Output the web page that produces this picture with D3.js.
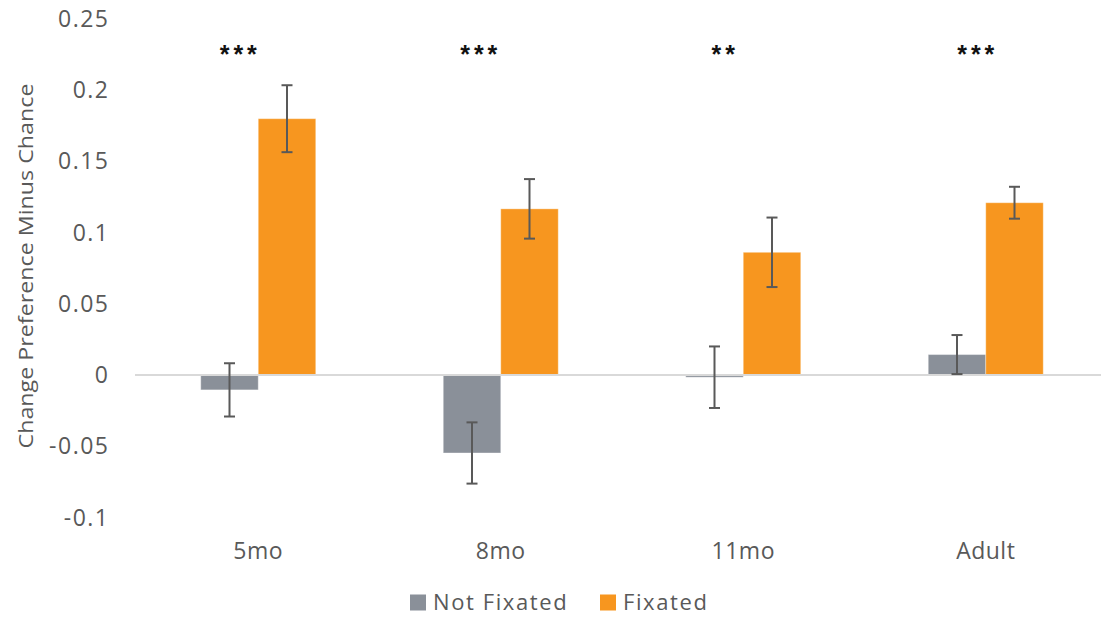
<!DOCTYPE html>
<html><head><meta charset="utf-8">
<script src="https://cdn.jsdelivr.net/npm/d3@7"></script>
<style>body{margin:0;background:#fff;} svg{display:block;}</style>
</head><body>
<svg id="chart" width="1101" height="619"></svg>
<script>
const categories = ["5mo", "8mo", "11mo", "Adult"];
const seriesNames = ["Not Fixated", "Fixated"];
const notFixated = [-0.0104, -0.0547, -0.0015, 0.0144];
const fixated = [0.180, 0.1167, 0.0862, 0.121];
const notFixatedErr = [0.0187, 0.0215, 0.0216, 0.0137];
const fixatedErr = [0.0235, 0.0209, 0.0244, 0.0112];
const significance = ["***", "***", "**", "***"];
const yTicks = [-0.1, -0.05, 0, 0.05, 0.1, 0.15, 0.2, 0.25];
const yTickLabels = ["-0.1", "-0.05", "0", "0.05", "0.1", "0.15", "0.2", "0.25"];
const yTitle = "Change Preference Minus Chance";
const colors = ["#8A9099", "#F7961F"];

const svg = d3.select("#chart");
const font = "'Open Sans', sans-serif";
const x = d3.scaleBand().domain(categories).range([137, 1107]).padding(0);
const groupW = 115;
const xs = d3.scaleBand().domain(seriesNames).range([0, groupW]).padding(0);
const y = d3.scaleLinear().domain([-0.1, 0.25]).range([517.5, 19]);

// tick labels
svg.append("g").selectAll("text").data(yTicks).join("text")
  .attr("x", 109.5).attr("y", d => y(d)).attr("dy", "0.35em")
  .attr("text-anchor", "end").attr("font-family", font).attr("font-size", 23)
  .attr("letter-spacing", 1.5)
  .attr("fill", "#595959").text((d, i) => yTickLabels[i]);

// y title
svg.append("text")
  .attr("transform", `translate(33,${266}) rotate(-90)`)
  .attr("text-anchor", "middle").attr("font-family", font).attr("font-size", 20)
  .attr("fill", "#595959").attr("textLength", 365).attr("lengthAdjust", "spacingAndGlyphs")
  .text(yTitle);

const data = categories.map((c, i) => [
  {cat: c, s: seriesNames[0], v: notFixated[i], e: notFixatedErr[i], col: colors[0]},
  {cat: c, s: seriesNames[1], v: fixated[i], e: fixatedErr[i], col: colors[1]}
]).flat();
const bx = d => x(d.cat) + (x.bandwidth() - groupW) / 2 + xs(d.s);

// bars
svg.append("g").selectAll("rect").data(data).join("rect")
  .attr("x", d => bx(d)).attr("width", xs.bandwidth())
  .attr("y", d => y(Math.max(0, d.v))).attr("height", d => Math.abs(y(d.v) - y(0)))
  .attr("fill", d => d.col).attr("stroke", "#fff").attr("stroke-opacity", 0.35).attr("stroke-width", 1);

// zero line
svg.append("line").attr("x1", x.range()[0] - 2).attr("x2", 1101)
  .attr("y1", y(0)).attr("y2", y(0)).attr("stroke", "#D9D9D9").attr("stroke-width", 2);

// error bars
const eb = svg.append("g").attr("stroke", "#595959").attr("stroke-width", 2);
data.forEach(d => {
  const cx = bx(d) + xs.bandwidth() / 2;
  eb.append("line").attr("x1", cx).attr("x2", cx).attr("y1", y(d.v + d.e)).attr("y2", y(d.v - d.e));
  [d.v + d.e, d.v - d.e].forEach(v => {
    eb.append("line").attr("x1", cx - 5.5).attr("x2", cx + 5.5).attr("y1", y(v)).attr("y2", y(v));
  });
});

// significance stars
const starOffset = [-18, -20, -18, -8];
svg.append("g").selectAll("text").data(categories).join("text")
  .attr("x", (d, i) => x(d) + x.bandwidth() / 2 + starOffset[i])
  .attr("y", 63).attr("text-anchor", "middle")
  .attr("font-family", "'Liberation Sans', sans-serif").attr("font-size", 25)
  .attr("font-weight", "bold")
  .attr("letter-spacing", 4).attr("fill", "#111")
  .text((d, i) => significance[i]);

// category labels
svg.append("g").selectAll("text").data(categories).join("text")
  .attr("x", d => x(d) + x.bandwidth() / 2).attr("y", 551).attr("dy", "0.35em")
  .attr("text-anchor", "middle").attr("font-family", font).attr("font-size", 23)
  .attr("letter-spacing", 0.5)
  .attr("fill", "#595959").text(d => d);

// legend
const legendX = [410, 600];
const lg = svg.append("g");
seriesNames.forEach((s, i) => {
  lg.append("rect").attr("x", legendX[i]).attr("y", 594.5).attr("width", 16).attr("height", 16).attr("fill", colors[i]);
  lg.append("text").attr("x", legendX[i] + 23).attr("y", 602).attr("dy", "0.35em")
    .attr("font-family", font).attr("font-size", 22).attr("letter-spacing", 1.6)
    .attr("fill", "#595959").text(s);
});
</script>
</body></html>
